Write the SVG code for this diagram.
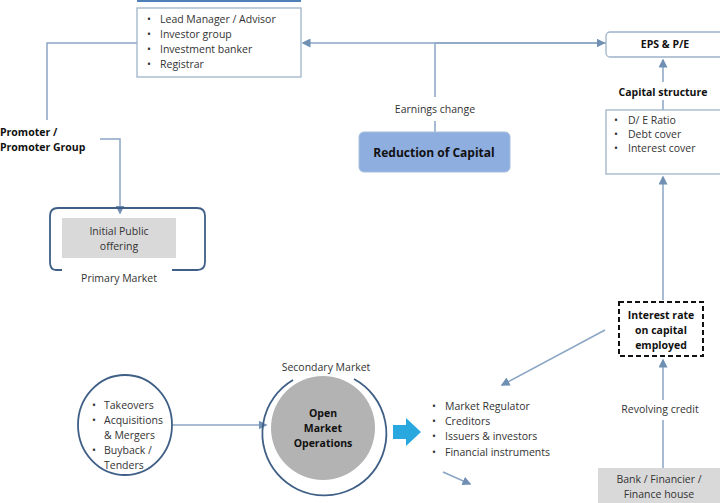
<svg xmlns="http://www.w3.org/2000/svg" width="720" height="503" viewBox="0 0 720 503">
<defs>
<style>
text{font-family:"Open Sans","Liberation Sans",sans-serif;font-size:10.5px;fill:#333}
.b{font-weight:bold;fill:#111}
.ln{stroke:#8aa6c4;stroke-width:1.5;fill:none}
.box{fill:#fff;stroke:#9fb3c8;stroke-width:1.3}
</style>
<marker id="a" markerWidth="6" markerHeight="6" refX="5" refY="3" orient="auto"><path d="M0,0L6,3L0,6z" fill="#6f8fb3"/></marker>
</defs>
<rect width="720" height="503" fill="#fff"/>
<g id="connectors">
<path class="ln" d="M137,43H47V120"/>
<path class="ln" d="M608,43H303" marker-end="url(#a)"/>
<path class="ln" d="M435,43H604" marker-end="url(#a)"/>
<path class="ln" d="M435,43V97M435,121V132"/>
<path class="ln" d="M663,82V60" marker-end="url(#a)"/>
<path class="ln" d="M663,100V110"/>
<path class="ln" d="M663,300V177" marker-end="url(#a)"/>
<path class="ln" d="M663,400V360" marker-end="url(#a)"/>
<path class="ln" d="M663,468V420"/>
<path class="ln" d="M100,139H120V213" marker-end="url(#a)"/>
<path class="ln" d="M605,330L502,385" marker-end="url(#a)"/>
<path class="ln" d="M443,472L470,484" marker-end="url(#a)"/>
<path class="ln" d="M172,425H266" marker-end="url(#a)"/>
</g>
<g id="advisors">
<rect x="137" y="-4" width="164" height="6" fill="#4f7fb8"/>
<rect class="box" x="137" y="8" width="164" height="69"/>
<text x="147" y="23">•</text><text x="160" y="23">Lead Manager / Advisor</text>
<text x="147" y="38">•</text><text x="160" y="38">Investor group</text>
<text x="147" y="53">•</text><text x="160" y="53">Investment banker</text>
<text x="147" y="68">•</text><text x="160" y="68">Registrar</text>
</g>
<g id="promoter"><text class="b" x="0" y="136">Promoter /</text><text class="b" x="0" y="151">Promoter Group</text></g>
<g id="ipo">
<path d="M62,270H56Q50,270 50,262V216Q50,208 58,208H197Q205,208 205,216V262Q205,270 197,270H172" fill="none" stroke="#3f5f86" stroke-width="1.8"/>
<rect x="62" y="218" width="114" height="40" fill="#d9d9d9"/>
<text x="119" y="235" text-anchor="middle">Initial Public</text>
<text x="119" y="250" text-anchor="middle">offering</text>
<text x="119" y="282" text-anchor="middle">Primary Market</text>
</g>
<g id="reduction">
<text x="435" y="113" text-anchor="middle">Earnings change</text>
<rect x="359" y="132" width="151" height="40" rx="5" fill="#8eaee0" stroke="#a9bfdc"/>
<text class="b" x="434" y="157" text-anchor="middle" style="font-size:12px">Reduction of Capital</text>
</g>
<g id="eps">
<rect class="box" x="606" y="32" width="118" height="25" rx="4"/>
<text class="b" x="665" y="48" text-anchor="middle">EPS &amp; P/E</text>
</g>
<g id="capital">
<text class="b" x="663" y="96" text-anchor="middle">Capital structure</text>
<rect class="box" x="606" y="110" width="118" height="64"/>
<text x="614" y="124">•</text><text x="628" y="124">D/ E  Ratio</text>
<text x="614" y="138">•</text><text x="628" y="138">Debt cover</text>
<text x="614" y="152">•</text><text x="628" y="152">Interest cover</text>
</g>
<g id="interest">
<rect x="619" y="302" width="84" height="54" fill="#fff" stroke="#111" stroke-width="2" stroke-dasharray="5,3"/>
<text class="b" x="661" y="319" text-anchor="middle">Interest rate</text>
<text class="b" x="661" y="334" text-anchor="middle">on capital</text>
<text class="b" x="661" y="349" text-anchor="middle">employed</text>
</g>
<g id="revolving"><text x="660" y="413" text-anchor="middle">Revolving credit</text></g>
<g id="bank">
<rect x="598" y="468" width="124" height="40" fill="#d9d9d9"/>
<text x="659" y="483" text-anchor="middle">Bank / Financier /</text>
<text x="659" y="498" text-anchor="middle">Finance house</text>
</g>
<g id="takeovers">
<ellipse cx="125" cy="425" rx="47" ry="50" fill="#fff" stroke="#3f5f86" stroke-width="1.8"/>
<text x="92" y="409">•</text><text x="104" y="409">Takeovers</text>
<text x="92" y="424">•</text><text x="104" y="424">Acquisitions</text>
<text x="104" y="439">&amp; Mergers</text>
<text x="92" y="454">•</text><text x="104" y="454">Buyback /</text>
<text x="104" y="469">Tenders</text>
</g>
<g id="omo">
<text x="326" y="371" text-anchor="middle">Secondary Market</text>
<path d="M293,380A62,62 0 1 0 354,379" fill="none" stroke="#3f5f86" stroke-width="1.8"/>
<circle cx="323" cy="428" r="52" fill="#b3b3b3"/>
<text class="b" x="323" y="417" text-anchor="middle">Open</text>
<text class="b" x="323" y="432" text-anchor="middle">Market</text>
<text class="b" x="323" y="447" text-anchor="middle">Operations</text>
</g>
<path id="bigarrow" d="M393,425H406V418L421,432L406,446V439H393z" fill="#29a8e0"/>
<g id="market">
<text x="432" y="410">•</text><text x="445" y="410">Market  Regulator</text>
<text x="432" y="425">•</text><text x="445" y="425">Creditors</text>
<text x="432" y="440">•</text><text x="445" y="440">Issuers &amp; investors</text>
<text x="432" y="456">•</text><text x="445" y="456">Financial instruments</text>
</g>
</svg>
